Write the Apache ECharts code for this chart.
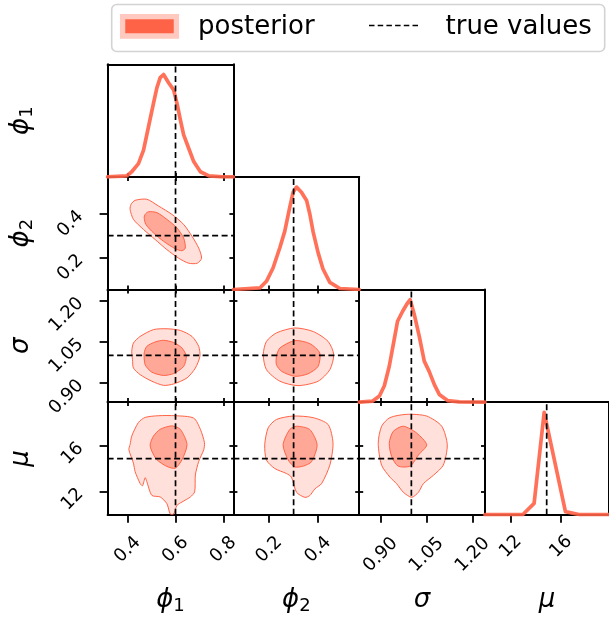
<!DOCTYPE html>
<html><head><meta charset="utf-8">
<script src="https://cdn.jsdelivr.net/npm/echarts@6/dist/echarts.min.js"></script>
<style>html,body{margin:0;padding:0;background:#fff}#c{width:609px;height:617px}</style>
</head><body><div id="c"></div>
<script>
// ---------- data ----------
const paramNames = ['ϕ', 'ϕ', 'σ', 'μ'];
const paramSubs = ['1', '2', '', ''];
const trueValues = [0.6, 0.3, 1.0, 14.85];
const axisRanges = [[0.316, 0.842], [0.054, 0.568], [0.83, 1.24], [9.95, 19.8]];
const tickValues = [[0.4, 0.6, 0.8], [0.2, 0.4], [0.90, 1.05, 1.20], [12, 16]];
const tickLabels = [['0.4', '0.6', '0.8'], ['0.2', '0.4'], ['0.90', '1.05', '1.20'], ['12', '16']];

// 1-D marginal densities (normalised to peak = 1)
const phi1X = [0.316, 0.396, 0.417, 0.445, 0.466, 0.487, 0.508, 0.522, 0.536, 0.550, 0.571, 0.592, 0.606, 0.620, 0.634, 0.655, 0.676, 0.704, 0.740, 0.796, 0.842];
const phi1D = [0, 0.01, 0.05, 0.13, 0.26, 0.49, 0.72, 0.87, 0.97, 1.0, 0.92, 0.85, 0.72, 0.56, 0.41, 0.28, 0.15, 0.05, 0.01, 0, 0];
const phi2X = [0.054, 0.162, 0.189, 0.216, 0.244, 0.264, 0.284, 0.298, 0.312, 0.332, 0.353, 0.366, 0.380, 0.400, 0.420, 0.448, 0.489, 0.568];
const phi2D = [0, 0.015, 0.08, 0.21, 0.41, 0.57, 0.80, 0.95, 1.0, 0.95, 0.87, 0.74, 0.56, 0.36, 0.20, 0.07, 0.01, 0];
const sigmaX = [0.83, 0.874, 0.896, 0.912, 0.928, 0.944, 0.955, 0.972, 0.988, 0.996, 1.010, 1.026, 1.042, 1.058, 1.075, 1.091, 1.118, 1.156, 1.24];
const sigmaD = [0, 0.01, 0.06, 0.16, 0.35, 0.61, 0.79, 0.89, 0.97, 1.0, 0.85, 0.64, 0.40, 0.30, 0.17, 0.075, 0.015, 0.003, 0];
const muX = [9.95, 12.94, 13.85, 14.65, 16.34, 17.5, 19.8];
const muD = [0, 0, 0.11, 1.0, 0.03, 0, 0];

// 2-D credible contours [x, y]
const phi1Phi2Outer = [[0.414,0.443],[0.431,0.461],[0.480,0.466],[0.529,0.435],[0.585,0.397],[0.634,0.351],[0.669,0.297],[0.697,0.243],[0.709,0.197],[0.691,0.174],[0.655,0.174],[0.613,0.197],[0.564,0.236],[0.515,0.282],[0.466,0.328],[0.424,0.374],[0.410,0.420]];
const phi1Phi2Inner = [[0.473,0.397],[0.487,0.409],[0.522,0.405],[0.564,0.374],[0.606,0.335],[0.634,0.289],[0.641,0.243],[0.627,0.231],[0.599,0.240],[0.550,0.274],[0.508,0.312],[0.476,0.351],[0.469,0.382]];
const phi1SigmaOuter = [[0.417,1.015],[0.424,1.045],[0.452,1.069],[0.508,1.094],[0.564,1.097],[0.620,1.091],[0.669,1.069],[0.697,1.033],[0.702,0.997],[0.683,0.954],[0.648,0.918],[0.592,0.896],[0.550,0.891],[0.501,0.906],[0.452,0.930],[0.424,0.954],[0.420,0.985]];
const phi1SigmaInner = [[0.469,1.009],[0.480,1.033],[0.515,1.049],[0.550,1.055],[0.592,1.047],[0.627,1.027],[0.645,0.997],[0.634,0.960],[0.592,0.934],[0.550,0.927],[0.501,0.939],[0.473,0.966]];
const phi1MuOuter = [[0.410,16.09],[0.417,16.83],[0.445,18.02],[0.473,18.46],[0.529,18.61],[0.599,18.61],[0.676,18.40],[0.704,17.42],[0.721,16.24],[0.718,15.64],[0.697,14.61],[0.683,13.42],[0.680,11.95],[0.662,11.50],[0.627,11.06],[0.606,10.76],[0.592,10.0],[0.578,10.0],[0.564,10.91],[0.536,11.50],[0.501,11.64],[0.480,12.84],[0.473,13.19],[0.462,12.48],[0.452,12.68],[0.431,13.72],[0.424,14.46],[0.405,15.64]];
const phi1MuInner = [[0.494,16.09],[0.508,16.83],[0.536,17.42],[0.585,17.72],[0.620,17.42],[0.648,16.09],[0.627,14.76],[0.599,14.02],[0.564,14.17],[0.522,14.76],[0.501,15.50]];
const phi2SigmaOuter = [[0.176,1.003],[0.189,1.051],[0.230,1.082],[0.305,1.100],[0.380,1.087],[0.441,1.051],[0.464,1.003],[0.448,0.948],[0.400,0.906],[0.318,0.890],[0.244,0.906],[0.189,0.948]];
const phi2SigmaInner = [[0.230,0.997],[0.244,1.027],[0.305,1.054],[0.366,1.043],[0.407,1.009],[0.400,0.960],[0.359,0.933],[0.305,0.924],[0.251,0.942],[0.230,0.966]];
const phi2MuOuter = [[0.182,16.06],[0.196,17.55],[0.230,18.28],[0.298,18.58],[0.380,18.44],[0.441,17.84],[0.461,16.21],[0.448,14.28],[0.414,12.66],[0.387,12.21],[0.366,11.62],[0.346,11.47],[0.312,11.91],[0.291,13.24],[0.271,13.55],[0.223,13.99],[0.189,14.73]];
const phi2MuInner = [[0.257,16.06],[0.284,17.40],[0.312,17.69],[0.366,17.40],[0.396,16.06],[0.373,14.58],[0.339,14.20],[0.305,14.13],[0.278,14.73]];
const sigmaMuOuter = [[0.892,16.21],[0.903,17.69],[0.930,18.44],[0.985,18.73],[1.050,18.58],[1.099,17.69],[1.117,16.06],[1.104,14.28],[1.072,13.40],[1.039,12.66],[1.023,11.91],[1.001,11.47],[0.974,11.91],[0.952,12.66],[0.930,13.24],[0.903,14.28]];
const sigmaMuInner = [[0.928,16.21],[0.941,17.24],[0.974,17.69],[1.017,17.10],[1.050,16.06],[1.023,15.17],[0.996,14.20],[0.957,14.20],[0.936,15.02]];

const legendLabels = ['posterior', 'true values'];

// ---------- assembly ----------
const histX = [phi1X, phi2X, sigmaX, muX];
const histD = [phi1D, phi2D, sigmaD, muD];
const contours = {
  '0-1': [phi1Phi2Outer, phi1Phi2Inner],
  '0-2': [phi1SigmaOuter, phi1SigmaInner],
  '0-3': [phi1MuOuter, phi1MuInner],
  '1-2': [phi2SigmaOuter, phi2SigmaInner],
  '1-3': [phi2MuOuter, phi2MuInner],
  '2-3': [sigmaMuOuter, sigmaMuInner]
};

const TOMATO = '#ff6347';
const FONT = 'DejaVu Sans';
const L0 = 107.6, T0 = 64.3, W = 125.8, H = 112.6;
const xLabelMargin = [35, 35, 40, 32];

function fmt(i) {
  return function (v) {
    const k = tickValues[i].findIndex(t => Math.abs(t - v) < 1e-6);
    return k >= 0 ? tickLabels[i][k] : '';
  };
}
function nameRich(i) {
  return '{i|' + paramNames[i] + '}' + (paramSubs[i] ? '{s|' + paramSubs[i] + '}' : '');
}
const richName = {
  i: { fontSize: 26, fontStyle: 'italic', fontFamily: FONT, color: '#000' },
  s: { fontSize: 18, fontFamily: FONT, color: '#000', padding: [12, 0, 0, 0] }
};
const tickStyle = { color: '#000', width: 1.8 };
const lineStyle = { color: '#000', width: 2 };

const grids = [], xAxes = [], yAxes = [], series = [];

function dashed(xi, yi, data) {
  series.push({
    type: 'line', xAxisIndex: xi, yAxisIndex: yi, data: data, symbol: 'none', silent: true, z: 6,
    lineStyle: { color: '#000', width: 1.7, type: [6, 3.5] }
  });
}
function polygon(xi, yi, pts, fill, z) {
  series.push({
    type: 'custom', xAxisIndex: xi, yAxisIndex: yi, data: pts, z: z, silent: true, clip: true,
    renderItem: function (params, api) {
      if (params.dataIndex !== 0) return null;
      const points = pts.map(p => api.coord(p));
      return { type: 'polygon', shape: { points: points, smooth: 0.25 },
               style: { fill: fill, stroke: TOMATO, lineWidth: 1 } };
    }
  });
}

for (let r = 0; r < 4; r++) {
  for (let c = 0; c <= r; c++) {
    const g = grids.length;
    const diag = r === c;
    grids.push({ left: L0 + W * c, top: T0 + H * r, width: W, height: H, show: false });
    const bx = xAxes.length;
    xAxes.push({
      gridIndex: g, type: 'value', position: 'bottom', min: axisRanges[c][0], max: axisRanges[c][1],
      axisLine: { show: true, onZero: false, lineStyle: lineStyle }, splitLine: { show: false },
      axisTick: { show: true, inside: r !== 3, length: r === 3 ? 8 : 4, customValues: tickValues[c], lineStyle: tickStyle },
      axisLabel: { show: r === 3, customValues: tickValues[c], formatter: fmt(c), rotate: 45, align: 'center',
                   verticalAlign: 'middle', margin: xLabelMargin[c], fontSize: 18, color: '#000', fontFamily: FONT, hideOverlap: false },
      name: r === 3 ? nameRich(c) : '', nameLocation: 'middle', nameGap: 86,
      nameTextStyle: { rich: richName, verticalAlign: 'middle', align: 'center' }
    });
    xAxes.push({
      gridIndex: g, type: 'value', position: 'top', min: axisRanges[c][0], max: axisRanges[c][1],
      axisLine: { show: true, onZero: false, lineStyle: lineStyle }, splitLine: { show: false },
      axisTick: { show: !diag, inside: true, length: 4, customValues: tickValues[c], lineStyle: tickStyle },
      axisLabel: { show: false }
    });
    const ly = yAxes.length;
    if (diag) {
      yAxes.push({
        gridIndex: g, type: 'value', position: 'left', min: 0, max: 1.1,
        axisLine: { show: true, onZero: false, lineStyle: lineStyle }, splitLine: { show: false },
        axisTick: { show: false }, axisLabel: { show: false },
        name: c === 0 ? nameRich(r) : '', nameLocation: 'middle', nameGap: 86,
        nameTextStyle: { rich: richName, verticalAlign: 'middle', align: 'center' }
      });
      yAxes.push({
        gridIndex: g, type: 'value', position: 'right', min: 0, max: 1.1,
        axisLine: { show: true, onZero: false, lineStyle: lineStyle }, splitLine: { show: false },
        axisTick: { show: false }, axisLabel: { show: false }
      });
    } else {
      yAxes.push({
        gridIndex: g, type: 'value', position: 'left', min: axisRanges[r][0], max: axisRanges[r][1],
        axisLine: { show: true, onZero: false, lineStyle: lineStyle }, splitLine: { show: false },
        axisTick: { show: true, inside: c !== 0, length: c === 0 ? 8 : 4, customValues: tickValues[r], lineStyle: tickStyle },
        axisLabel: { show: c === 0, customValues: tickValues[r], formatter: fmt(r), rotate: 45, margin: 27,
                     fontSize: 18, color: '#000', fontFamily: FONT, hideOverlap: false },
        name: c === 0 ? nameRich(r) : '', nameLocation: 'middle', nameGap: 86,
        nameTextStyle: { rich: richName, verticalAlign: 'middle', align: 'center' }
      });
      yAxes.push({
        gridIndex: g, type: 'value', position: 'right', min: axisRanges[r][0], max: axisRanges[r][1],
        axisLine: { show: true, onZero: false, lineStyle: lineStyle }, splitLine: { show: false },
        axisTick: { show: true, inside: true, length: 4, customValues: tickValues[r], lineStyle: tickStyle },
        axisLabel: { show: false }
      });
    }
    if (diag) {
      series.push({
        type: 'line', xAxisIndex: bx, yAxisIndex: ly, symbol: 'none', silent: true, z: 4,
        data: histX[c].map((x, i) => [x, histD[c][i]]),
        lineStyle: { color: TOMATO, width: 3.7, opacity: 0.9, join: 'round', cap: 'round' }
      });
      dashed(bx, ly, [[trueValues[c], 0], [trueValues[c], 1.1]]);
    } else {
      const cs = contours[c + '-' + r];
      polygon(bx, ly, cs[0], 'rgba(255,99,71,0.2)', 2);
      polygon(bx, ly, cs[1], 'rgba(255,99,71,0.45)', 3);
      dashed(bx, ly, [[trueValues[c], axisRanges[r][0]], [trueValues[c], axisRanges[r][1]]]);
      dashed(bx, ly, [[axisRanges[c][0], trueValues[r]], [axisRanges[c][1], trueValues[r]]]);
    }
  }
}

const legendGraphic = [
  { type: 'rect', silent: true, shape: { x: 111.7, y: 4.5, width: 493, height: 47, r: 5 },
    style: { fill: '#fff', stroke: '#d3d3d3', lineWidth: 1.6 } },
  { type: 'rect', silent: true, shape: { x: 122.6, y: 16.7, width: 53.8, height: 19.3 },
    style: { fill: TOMATO, stroke: '#ffc9bf', lineWidth: 5.3 } },
  { type: 'text', silent: true, x: 198, y: 27.5, style: { text: legendLabels[0], font: '26px "DejaVu Sans"', fill: '#000', verticalAlign: 'middle' } },
  { type: 'line', silent: true, shape: { x1: 369, y1: 25.5, x2: 421, y2: 25.5 },
    style: { stroke: '#000', lineWidth: 1.6, lineDash: [5.5, 3.2] } },
  { type: 'text', silent: true, x: 445.5, y: 27.5, style: { text: legendLabels[1], font: '26px "DejaVu Sans"', fill: '#000', verticalAlign: 'middle' } }
];

const chart = echarts.init(document.getElementById('c'), null, { renderer: 'canvas' });
chart.setOption({
  animation: false,
  backgroundColor: '#fff',
  grid: grids, xAxis: xAxes, yAxis: yAxes, series: series,
  graphic: legendGraphic
});
</script></body></html>
